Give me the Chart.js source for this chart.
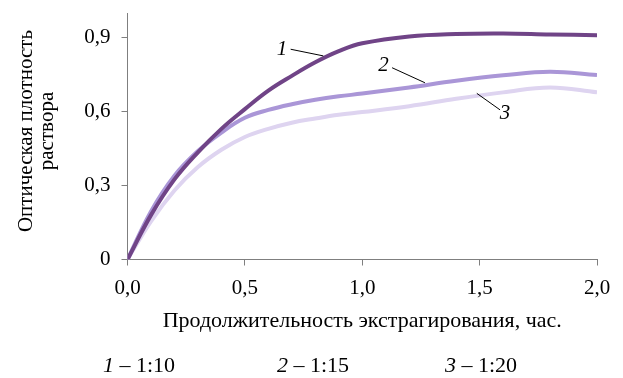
<!DOCTYPE html>
<html>
<head>
<meta charset="utf-8">
<script src="https://cdn.jsdelivr.net/npm/chart.js@4"></script>
<style>
  html, body { margin: 0; padding: 0; background: #fff; }
  #wrap { width: 623px; height: 378px; position: relative; }
</style>
</head>
<body>
<div id="wrap"><canvas id="mycanvas"></canvas></div>
<script>
// время экстрагирования, час
var hours = [0, 0.1, 0.2, 0.3, 0.4, 0.5, 0.6, 0.7, 0.8, 0.9, 1.0, 1.2, 1.4, 1.6, 1.8, 2.0];
// оптическая плотность
var ratio10 = [0, 0.18, 0.325, 0.435, 0.53, 0.61, 0.685, 0.745, 0.80, 0.845, 0.877, 0.905, 0.915, 0.917, 0.913, 0.91];
var ratio15 = [0, 0.195, 0.34, 0.44, 0.515, 0.575, 0.607, 0.63, 0.648, 0.662, 0.673, 0.698, 0.725, 0.747, 0.762, 0.748];
var ratio20 = [0, 0.155, 0.28, 0.375, 0.445, 0.497, 0.53, 0.555, 0.572, 0.587, 0.598, 0.622, 0.652, 0.678, 0.698, 0.678];

var seriesNames = ['1', '2', '3'];
var seriesRatios = ['1:10', '1:15', '1:20'];
var yTicks = [0, 0.3, 0.6, 0.9];
var xTitle = 'Продолжительность экстрагирования, час.';
var yTitle = ['Оптическая плотность', 'раствора'];

var serif = '"Liberation Serif", "Times New Roman", serif';
var axisGray = '#7f7f7f';

function pts(ys) {
  var out = [];
  for (var i in hours) out.push({x: hours[i], y: ys[i]});
  return out;
}

function comma(v, digits) {
  return v.toFixed(digits).replace('.', ',');
}

// подписи кривых с выносками (в координатах данных)
var callouts = [
  {text: '1', at: [0.658, 0.853], from: [0.695, 0.853], to: [0.834, 0.826]},
  {text: '2', at: [1.090, 0.789], from: [1.127, 0.778], to: [1.267, 0.717]},
  {text: '3', at: [1.608, 0.593], from: [1.488, 0.674], to: [1.587, 0.607]}
];

var textPlugin = {
  id: 'texts',
  afterDraw: function(chart) {
    var ctx = chart.ctx;
    var xs = chart.scales.x, ys = chart.scales.y;
    ctx.save();
    ctx.fillStyle = '#000';

    // выноски
    ctx.strokeStyle = '#000';
    ctx.lineWidth = 1;
    ctx.font = 'italic 21px ' + serif;
    ctx.textAlign = 'center';
    ctx.textBaseline = 'middle';
    callouts.forEach(function(c) {
      ctx.beginPath();
      ctx.moveTo(xs.getPixelForValue(c.from[0]), ys.getPixelForValue(c.from[1]));
      ctx.lineTo(xs.getPixelForValue(c.to[0]), ys.getPixelForValue(c.to[1]));
      ctx.stroke();
      ctx.fillText(c.text, xs.getPixelForValue(c.at[0]), ys.getPixelForValue(c.at[1]));
    });

    // подпись оси X
    ctx.font = '22px ' + serif;
    ctx.textAlign = 'center';
    ctx.textBaseline = 'alphabetic';
    ctx.fillText(xTitle, (chart.chartArea.left + chart.chartArea.right) / 2, 327);

    // подпись оси Y
    ctx.save();
    ctx.font = '21px ' + serif;
    ctx.translate(0, 131);
    ctx.rotate(-Math.PI / 2);
    ctx.fillText(yTitle[0], 0, 32);
    ctx.fillText(yTitle[1], 0, 53);
    ctx.restore();

    // легенда
    var starts = [103, 277, 445];
    ctx.textAlign = 'left';
    for (var i = 0; i < seriesNames.length; i++) {
      var x = starts[i];
      ctx.font = 'italic 22px ' + serif;
      ctx.fillText(seriesNames[i], x, 372);
      x += ctx.measureText(seriesNames[i]).width;
      ctx.font = '22px ' + serif;
      ctx.fillText(' \u2013 ' + seriesRatios[i], x, 372);
    }
    ctx.restore();
  }
};

var chartdata = {
  datasets: [
    {label: '1', data: pts(ratio10), borderColor: 'rgb(112,68,135)'},
    {label: '2', data: pts(ratio15), borderColor: 'rgb(170,150,215)'},
    {label: '3', data: pts(ratio20), borderColor: 'rgb(222,212,240)'}
  ]
};

var ctx = document.getElementById('mycanvas');

var lineGraph = new Chart(ctx, {
  type: 'line',
  data: chartdata,
  options: {
    responsive: true,
    maintainAspectRatio: false,
    animation: false,
    events: [],
    layout: {padding: {top: 13, right: 26, bottom: 0, left: 0}},
    elements: {
      line: {borderWidth: 4, tension: 0.4, fill: false},
      point: {radius: 0}
    },
    plugins: {legend: {display: false}, tooltip: {enabled: false}},
    scales: {
      x: {
        type: 'linear',
        min: 0,
        max: 2,
        afterFit: function(s) { s.height = 118.5; },
        border: {color: axisGray, width: 1},
        grid: {drawOnChartArea: false, tickLength: 6, color: axisGray},
        ticks: {
          stepSize: 0.5,
          padding: 10,
          color: '#000',
          font: {family: serif, size: 21},
          maxRotation: 0,
          callback: function(v) { return comma(v, 1); }
        }
      },
      y: {
        min: 0,
        max: 1.0,
        afterFit: function(s) {
          s.width = 127.5;
          s.paddingTop = 0;
          s.paddingBottom = 0;
        },
        afterBuildTicks: function(s) {
          s.ticks = yTicks.map(function(v) { return {value: v}; });
        },
        border: {color: axisGray, width: 1},
        grid: {drawOnChartArea: false, tickLength: 6, color: axisGray},
        ticks: {
          padding: 11,
          color: '#000',
          font: {family: serif, size: 21},
          callback: function(v) { return v === 0 ? '0' : comma(v, 1); }
        }
      }
    }
  },
  plugins: [textPlugin]
});
</script>
</body>
</html>
